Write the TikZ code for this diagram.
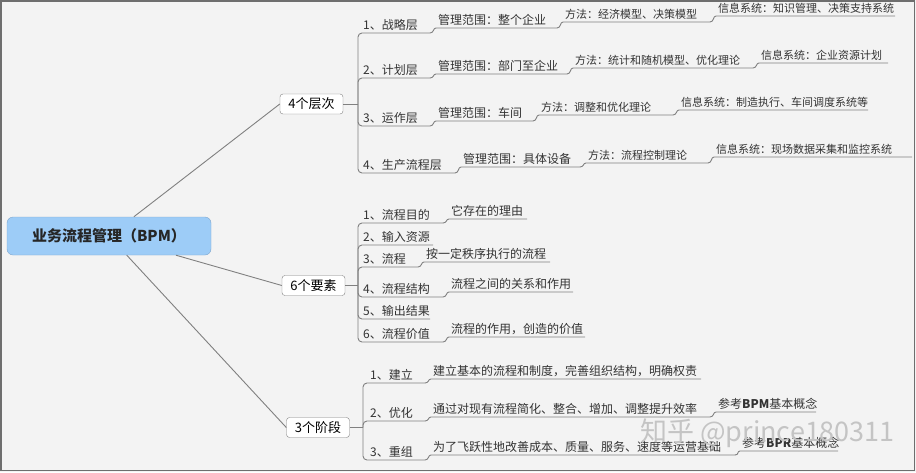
\documentclass[tikz,border=0pt]{standalone}
\usepackage{fontspec}
\setmainfont{Noto Sans CJK SC}
\definecolor{bgc}{HTML}{F3F3F3}
\definecolor{lnc}{HTML}{808080}
\definecolor{txc}{HTML}{333333}
\definecolor{rootfill}{HTML}{9DCCF7}
\definecolor{rootdraw}{HTML}{7FA6CC}
\definecolor{framec}{HTML}{6E6E6E}
\definecolor{wmc}{HTML}{C4C4C4}
\begin{document}
\begin{tikzpicture}[x=1pt,y=-1pt,
  conn/.style={draw=lnc, line width=0.9pt},
  bracket/.style={conn, rounded corners=4pt},
  leaf/.style={anchor=south west, inner xsep=2pt, inner ysep=2.5pt, text=txc, font=\fontsize{12}{12}\selectfont},
  small/.style={font=\fontsize{11}{11}\selectfont},
  topic/.style={draw=lnc, fill=white, rounded corners=3pt, minimum width=63pt, minimum height=20pt, inner sep=0pt, text=black, font=\fontsize{13}{13}\selectfont},
  rootbox/.style={draw=rootdraw, fill=rootfill, rounded corners=6pt, minimum width=204pt, minimum height=38pt, inner sep=0pt, text=black!85, font=\fontsize{15}{15}\selectfont\bfseries},
  wmark/.style={font=\fontsize{27}{27}\selectfont, anchor=west, inner sep=0pt, text=wmc}
]
\useasboundingbox (0,0) rectangle (916,472);
\fill[bgc] (0,0) rectangle (916,472);
\draw[framec, line width=1.5pt] (1,1) rectangle (914.5,470.5);

% root
\node[rootbox] (R) at (109,236) {业务流程管理（BPM）};

% ---------- group 1 ----------
\node[topic] (L1) at (311.5,104) {4个层次};
\coordinate (b1) at (358,104);
\draw[conn] (R) -- (L1.west);
\draw[conn] (L1.east) -- (b1);

\node[leaf] (a1) at (361,33) {1、战略层}; \coordinate (a1e) at (430,33);
\node[leaf] (a2) at (436,28) {管理范围：整个企业}; \coordinate (a2e) at (557,28);
\node[leaf,small] (a3) at (563,22) {方法：经济模型、决策模型}; \coordinate (a3e) at (710,22);
\node[leaf,small] (a4) at (716,16) {信息系统：知识管理、决策支持系统}; \coordinate (a4e) at (895,16);

\node[leaf] (p1) at (361,78) {2、计划层}; \coordinate (p1e) at (430,78);
\node[leaf] (p2) at (436,74) {管理范围：部门至企业}; \coordinate (p2e) at (567,74);
\node[leaf,small] (p3) at (573,68) {方法：统计和随机模型、优化理论}; \coordinate (p3e) at (753,68);
\node[leaf,small] (p4) at (759,63) {信息系统：企业资源计划}; \coordinate (p4e) at (888,63);

\node[leaf] (o1) at (361,126) {3、运作层}; \coordinate (o1e) at (430,126);
\node[leaf] (o2) at (436,121) {管理范围：车间}; \coordinate (o2e) at (533,121);
\node[leaf,small] (o3) at (539,115) {方法：调整和优化理论}; \coordinate (o3e) at (673,115);
\node[leaf,small] (o4) at (679,110) {信息系统：制造执行、车间调度系统等}; \coordinate (o4e) at (868,110);

\node[leaf] (s1) at (361,173) {4、生产流程层}; \coordinate (s1e) at (455,173);
\node[leaf] (s2) at (461,167) {管理范围：具体设备}; \coordinate (s2e) at (580,167);
\node[leaf,small] (s3) at (586,163) {方法：流程控制理论}; \coordinate (s3e) at (708,163);
\node[leaf,small] (s4) at (714,157) {信息系统：现场数据采集和监控系统}; \coordinate (s4e) at (912,157);

\foreach \r in {a,p,o,s}{
  \draw[bracket] (b1) |- (\r1e);
  \draw[conn] (\r1e) .. controls +(4,0) and +(-3,0) .. (\r2.south west) -- (\r2e);
  \draw[conn] (\r2e) .. controls +(4,0) and +(-3,0) .. (\r3.south west) -- (\r3e);
  \draw[conn] (\r3e) .. controls +(4,0) and +(-3,0) .. (\r4.south west) -- (\r4e);
}

% ---------- group 2 ----------
\node[topic] (L2) at (313.5,285.5) {6个要素};
\coordinate (b2) at (358,285.5);
\draw[conn] (R) -- (L2.west);
\draw[conn] (L2.east) -- (b2);

\node[leaf] (c1) at (361,223) {1、流程目的}; \coordinate (c1e) at (443,223);
\node[leaf] (d1) at (449,219) {它存在的理由}; \coordinate (d1e) at (527,219);
\node[leaf] (c2) at (361,245) {2、输入资源}; \coordinate (c2e) at (433,245);
\node[leaf] (c3) at (361,267) {3、流程}; \coordinate (c3e) at (418,267);
\node[leaf] (d3) at (424,262) {按一定秩序执行的流程}; \coordinate (d3e) at (550,262);
\node[leaf] (c4) at (361,297) {4、流程结构}; \coordinate (c4e) at (443,297);
\node[leaf] (d4) at (449,292) {流程之间的关系和作用}; \coordinate (d4e) at (573,292);
\node[leaf] (c5) at (361,319) {5、输出结果}; \coordinate (c5e) at (430,319);
\node[leaf] (c6) at (361,342) {6、流程价值}; \coordinate (c6e) at (443,342);
\node[leaf] (d6) at (449,337) {流程的作用，创造的价值}; \coordinate (d6e) at (585,337);

\foreach \i in {1,...,6}{\draw[bracket] (b2) |- (c\i e);}
\foreach \i in {1,3,4,6}{
  \draw[conn] (c\i e) .. controls +(4,0) and +(-3,0) .. (d\i.south west) -- (d\i e);
}

% ---------- group 3 ----------
\node[topic] (L3) at (318,427.5) {3个阶段};
\coordinate (b3) at (363,427.5);
\draw[conn] (R) -- (L3.west);
\draw[conn] (L3.east) -- (b3);

\node[leaf] (e1) at (368,383) {1、建立}; \coordinate (e1e) at (425,383);
\node[leaf] (f1) at (431,379) {建立基本的流程和制度，完善组织结构，明确权责}; \coordinate (f1e) at (701,379);
\node[leaf] (e2) at (368,421) {2、优化}; \coordinate (e2e) at (425,421);
\node[leaf] (f2) at (431,417) {通过对现有流程简化、整合、增加、调整提升效率}; \coordinate (f2e) at (710,417);
\node[leaf] (g2) at (716,412) {参考\textbf{BPM}基本概念}; \coordinate (g2e) at (816,412);
\node[leaf] (e3) at (368,460) {3、重组}; \coordinate (e3e) at (425,460);
\node[leaf] (f3) at (431,455) {为了飞跃性地改善成本、质量、服务、速度等运营基础}; \coordinate (f3e) at (735,455);
\node[leaf] (g3) at (740,451) {参考\textbf{BPR}基本概念}; \coordinate (g3e) at (838,451);

\foreach \i in {1,2,3}{
  \draw[bracket] (b3) |- (e\i e);
  \draw[conn] (e\i e) .. controls +(4,0) and +(-3,0) .. (f\i.south west) -- (f\i e);
}
\foreach \i in {2,3}{
  \draw[conn] (f\i e) .. controls +(4,0) and +(-3,0) .. (g\i.south west) -- (g\i e);
}

% watermark
\node[wmark] (wm) at (640,433) {知乎 @prince180311};
\end{tikzpicture}
\end{document}
